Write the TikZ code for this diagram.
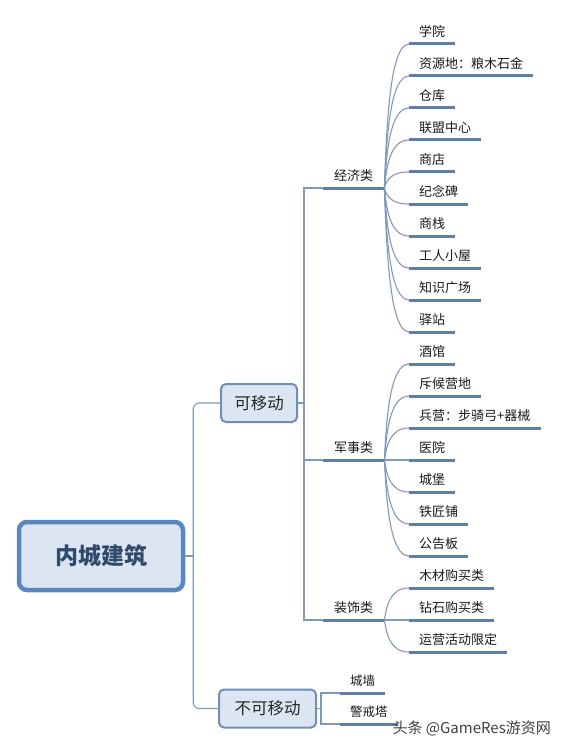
\documentclass[tikz,border=0pt]{standalone}
\usepackage{fontspec}
\usetikzlibrary{calc}
\setmainfont{Noto Sans CJK SC}
\definecolor{rootline}{HTML}{5A87C2}
\definecolor{boxline}{HTML}{6F8FB6}
\definecolor{boxfill}{HTML}{DCE6F2}
\definecolor{linkc}{HTML}{7F99B9}
\definecolor{barc}{HTML}{5F7EA7}
\definecolor{roottext}{HTML}{2F4A6D}
\begin{document}
\begin{tikzpicture}[x=1pt,y=-1pt,
    rootbox/.style={draw=rootline, line width=4.5pt, fill=boxfill, rounded corners=8pt,
      minimum width=164pt, minimum height=68pt, text=roottext,
      font=\fontsize{23}{26}\selectfont\bfseries},
    groupbox/.style={draw=boxline, line width=2pt, fill=boxfill, rounded corners=5pt,
      minimum height=38pt, text=black!85, font=\fontsize{16.5}{19}\selectfont},
    leaf/.style={anchor=south west, inner xsep=10pt, inner ysep=5pt, text height=11pt,
      text depth=2pt, text=black!90, font=\fontsize{13}{15}\selectfont},
    link/.style={draw=linkc, line width=1.1pt},
    bar/.style={draw=barc, line width=3pt}]
  \useasboundingbox (0,0) rectangle (563,746);

  \node[rootbox] (root) at (101,556) {内城建筑};
  \node[groupbox, minimum width=76pt] (move) at (259,403) {可移动};
  \node[groupbox, minimum width=97pt] (fixed) at (267.5,708.5) {不可移动};

  % root to the two groups
  \coordinate (trunk) at ([xshift=8pt]root.east);
  \draw[link] (root.east) -- (trunk);
  \draw[link, rounded corners=6pt] (move.west) -| (trunk) |- (fixed.west);

  % movable groups
  \node[leaf, inner xsep=11pt] (econ) at (323,188) {经济类};
  \node[leaf, inner xsep=11pt] (mil) at (323,460) {军事类};
  \node[leaf, inner xsep=11pt] (deco) at (323,620) {装饰类};
  \coordinate (fork) at ([xshift=6pt]move.east);
  \draw[link] (move.east) -- (fork);
  \draw[link] (econ.south west) -| (fork) |- (deco.south west);
  \draw[link] (fork) |- (mil.south west);
  \foreach \n in {econ,mil,deco}
    \draw[bar] (\n.south west) -- (\n.south east);

  \foreach \t [count=\i from 0] in {学院,资源地：粮木石金,仓库,联盟中心,商店,纪念碑,商栈,工人小屋,知识广场,驿站} {
    \node[leaf] (e\i) at (409,44+32*\i) {\t};
    \draw[link] (econ.south east) .. controls ($(econ.south east)+(2,{0.4*(32*\i-144)})$)
      and ($(econ.south east |- e\i.south west)+(5,0)$) .. (e\i.south west);
    \draw[bar] (e\i.south west) -- (e\i.south east);
  }
  \foreach \t [count=\i from 0] in {酒馆,斥候营地,兵营：步骑弓+器械,医院,城堡,铁匠铺,公告板} {
    \node[leaf] (m\i) at (409,364+32*\i) {\t};
    \draw[link] (mil.south east) .. controls ($(mil.south east)+(2,{0.4*(32*\i-96)})$)
      and ($(mil.south east |- m\i.south west)+(5,0)$) .. (m\i.south west);
    \draw[bar] (m\i.south west) -- (m\i.south east);
  }
  \foreach \t [count=\i from 0] in {木材购买类,钻石购买类,运营活动限定} {
    \node[leaf] (d\i) at (409,588+32*\i) {\t};
    \draw[link] (deco.south east) .. controls ($(deco.south east)+(2,{0.4*(32*\i-32)})$)
      and ($(deco.south east |- d\i.south west)+(5,0)$) .. (d\i.south west);
    \draw[bar] (d\i.south west) -- (d\i.south east);
  }

  % fixed buildings
  \node[leaf, font=\fontsize{12.5}{15}\selectfont] (wall) at (340,693) {城墙};
  \node[leaf, font=\fontsize{12.5}{15}\selectfont] (tower) at (340,724) {警戒塔};
  \coordinate (fork2) at ([xshift=4pt]fixed.east);
  \draw[link] (fixed.east) -- (fork2);
  \draw[link] (wall.south west) -| (fork2) |- (tower.south west);
  \draw[bar] (wall.south west) -- (wall.south east);
  \draw[bar] (tower.south west) -- (tower.south east);

  \node[anchor=west, text=black!75, font=\fontsize{15}{18}\selectfont] (mark) at (389,728) {头条 @GameRes游资网};
\end{tikzpicture}
\end{document}
